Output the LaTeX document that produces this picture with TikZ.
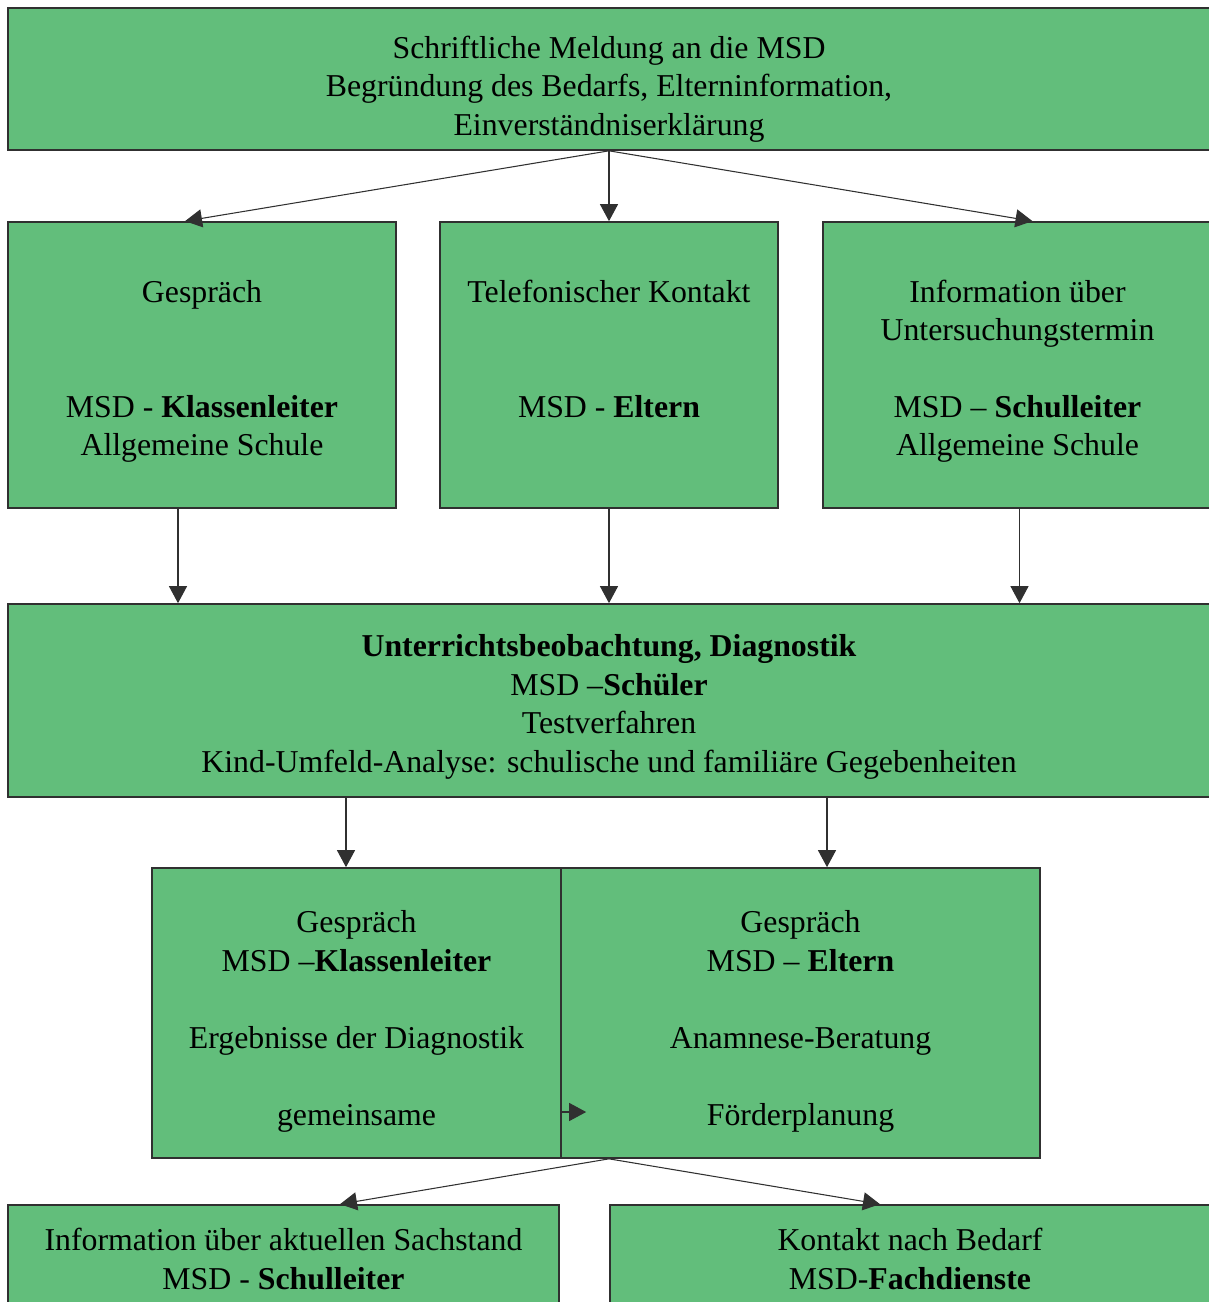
\documentclass[tikz,border=0pt]{standalone}
\usepackage{fontspec}
\setmainfont{Liberation Serif}
\usepackage{xcolor}
\usepackage{tikz}
\usetikzlibrary{arrows.meta,calc}

\definecolor{msdgreen}{HTML}{62BE7B}
\definecolor{msdline}{HTML}{303030}

\begin{document}
\begin{tikzpicture}[>={Triangle[length=3.4mm,width=3.6mm]},
    plainbox/.style={draw=msdline, line width=0.95pt, rectangle, fill=msdgreen, align=center,
                font={\fontsize{18.1}{21.9}\selectfont}, inner sep=0pt},
    box/.style={plainbox, text depth=0pt},
    link/.style={->, draw=msdline, line width=0.6pt}]
            \useasboundingbox (0,0) rectangle (24.16,-26.04);

            \node[box, text height=64pt, minimum width=24.04cm, minimum height=2.84cm] (meldung) at (12.18,-1.58)
                {Schriftliche Meldung an die MSD\\ Begründung des Bedarfs, Elterninformation,\\ Einverständniserklärung};

            \node[box, text height=103.5pt, minimum width=7.76cm, minimum height=5.72cm] (klasse) at (4.04,-7.30)
                {Gespräch\\ \mbox{}\\ \mbox{}\\ MSD - \textbf{Klassenleiter}\\ Allgemeine Schule};
            \node[box, text height=103.5pt, minimum width=6.76cm, minimum height=5.72cm] (eltern) at (12.18,-7.30)
                {Telefonischer Kontakt\\ \mbox{}\\ \mbox{}\\ MSD - \textbf{Eltern}\\ \mbox{}};
            \node[box, text height=103.5pt, minimum width=7.78cm, minimum height=5.72cm] (schule) at (20.35,-7.30)
                {Information über\\ Untersuchungstermin\\ \mbox{}\\ MSD -- \textbf{Schulleiter}\\ Allgemeine Schule};

            \node[box, text height=81.5pt, minimum width=24.04cm, minimum height=3.86cm] (diag) at (12.18,-14.01)
                {\textbf{Unterrichtsbeobachtung, Diagnostik}\\ MSD --\textbf{Schüler}\\ Testverfahren\\
                 Kind-Umfeld-Analyse: schulische und familiäre Gegebenheiten};

            \node[box, text height=127.6pt, minimum width=8.18cm, minimum height=5.80cm] (gklasse) at (7.13,-20.26)
                {Gespräch\\ MSD --\textbf{Klassenleiter}\\ \mbox{}\\ Ergebnisse der Diagnostik\\ \mbox{}\\ gemeinsame};
            \node[box, text height=127.6pt, minimum width=9.58cm, minimum height=5.80cm] (geltern) at (16.01,-20.26)
                {Gespräch\\ MSD -- \textbf{Eltern}\\ \mbox{}\\ Anamnese-Beratung\\ \mbox{}\\ Förderplanung};

            \node[plainbox, minimum width=11.02cm, minimum height=2.16cm] (sachstand) at (5.67,-25.18)
                {Information über aktuellen Sachstand\\ MSD - \textbf{Schulleiter}};
            \node[plainbox, minimum width=12.0cm, minimum height=2.16cm] (fach) at (18.20,-25.18)
                {Kontakt nach Bedarf\\ MSD-\textbf{Fachdienste}};

            % Meldung an die drei Kontakte
            \draw[link] (meldung.south) -- ([xshift=-0.34cm]klasse.north);
            \draw[link] (meldung.south) -- (eltern.north);
            \draw[link] (meldung.south) -- ([xshift=0.30cm]schule.north);

            \draw[link] ([xshift=-0.48cm]klasse.south) -- ([xshift=-0.48cm]klasse.south |- diag.north);
            \draw[link] (eltern.south) -- (eltern.south |- diag.north);
            \draw[link] ([xshift=0.04cm]schule.south) -- ([xshift=0.04cm]schule.south |- diag.north);

            \draw[link] ([xshift=-0.21cm]gklasse.north |- diag.south) -- ([xshift=-0.21cm]gklasse.north);
            \draw[link] ([xshift=0.53cm]geltern.north |- diag.south) -- ([xshift=0.53cm]geltern.north);

            \draw[link] ([yshift=-1.98cm]gklasse.east) -- ([yshift=-1.98cm,xshift=0.52cm]geltern.west);

            % Abschluss
            \coordinate (split) at (meldung.south |- geltern.south);
            \draw[link] (split) -- ([xshift=1.13cm]sachstand.north);
            \draw[link] (split) -- ([xshift=-0.60cm]fach.north);
        \end{tikzpicture}
\end{document}
